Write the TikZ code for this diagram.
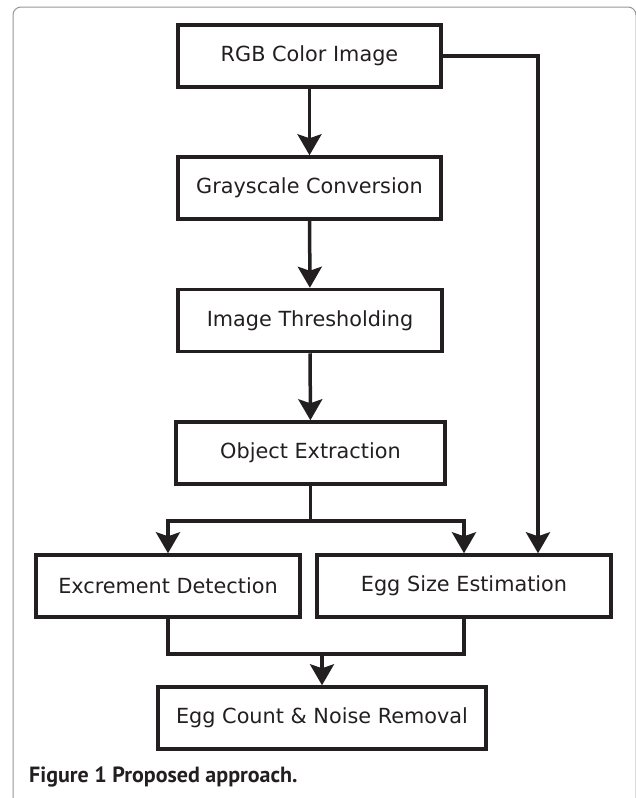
\documentclass[tikz,border=0pt]{standalone}
\usepackage{fontspec}
\setmainfont{DejaVu Sans}
\newfontfamily\captionfont{PT Sans}
\usetikzlibrary{arrows.meta}

\definecolor{tinte}{RGB}{35,31,32}
\definecolor{rahmen}{RGB}{150,150,150}

\begin{document}
\begin{tikzpicture}[x=1pt,y=-1pt,
  kasten/.style={draw=tinte,line width=3.5pt,text=tinte,minimum height=62pt,inner sep=0pt,font=\fontsize{20.8}{24}\selectfont},
  pfeil/.style={draw=tinte,line width=3.5pt,-{Stealth[length=21pt,width=24pt,inset=4pt]}},
  linie/.style={draw=tinte,line width=3.5pt}]

\useasboundingbox (0,0) rectangle (635,798);

% Rahmen
\draw[rahmen,line width=1pt,rounded corners=8pt] (13,810) -- (13,7) -- (636,7) -- (636,810);

% Kaesten
\draw (309.5,56) node[kasten,minimum width=263pt] (RGB) {RGB Color Image};
\draw (309.5,188) node[kasten,minimum width=263pt] (Gray) {Grayscale Conversion};
\draw (310,320.5) node[kasten,minimum width=264pt] (Threshold) {Image Thresholding};
\draw (310.5,453) node[kasten,minimum width=269pt] (Object) {Object Extraction};
\draw (168,586) node[kasten,minimum width=264pt] (Excrement) {Excrement Detection};
\draw (464,586) node[kasten,minimum width=294pt] (EggSize) {Egg Size Estimation};
\draw (322,718) node[kasten,minimum width=328pt] (Count) {Egg Count \& Noise Removal};

% Beschriftung
\draw (29,782) node[anchor=base west,inner sep=0pt,text=tinte,font=\captionfont\bfseries\fontsize{22}{25}\selectfont] (Caption) {Figure 1 Proposed approach.};

% Striche
\draw[pfeil] (RGB) -- (Gray);
\draw[pfeil] (Gray) -- (Threshold);
\draw[pfeil] (Threshold) -- (Object);
\draw[pfeil] (RGB.east) -| ([xshift=74pt]EggSize.north);
\draw[linie] (Object.south) -- ++(0,35) coordinate (Gabel);
\draw[pfeil] (Gabel) -| (Excrement.north);
\draw[pfeil] (Gabel) -| (EggSize.north);
\draw[linie] (Excrement.south) -- ++(0,35) -| (EggSize.south);
\coordinate (Sammel) at (Count.north |- 0,652);
\draw[pfeil] (Sammel) -- (Count.north);

\end{tikzpicture}
\end{document}
